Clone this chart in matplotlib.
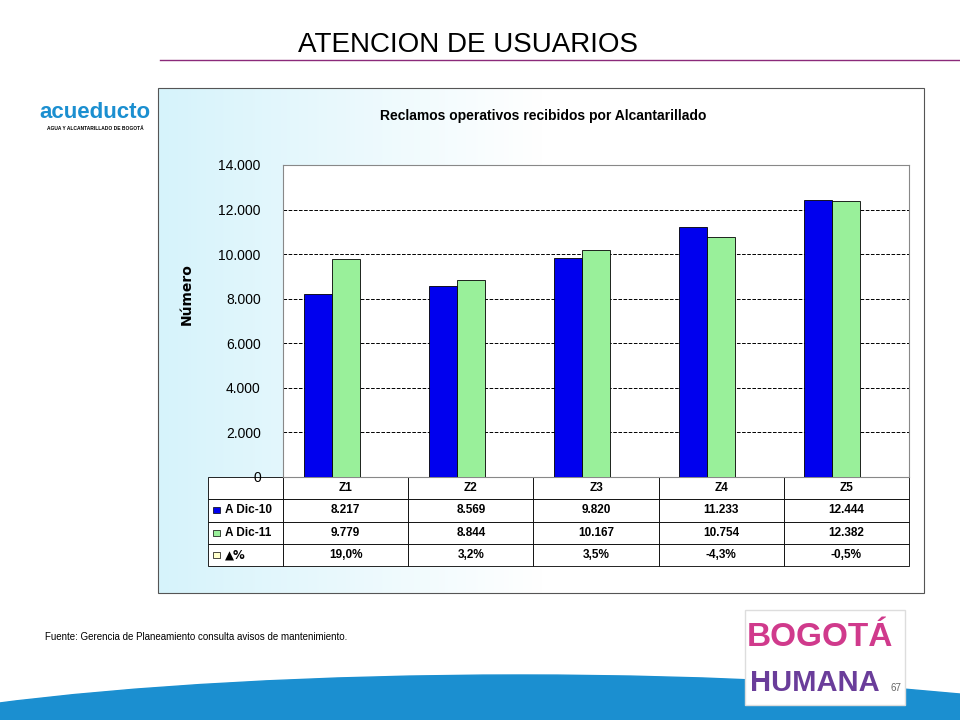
import matplotlib
matplotlib.use("Agg")
import matplotlib.pyplot as plt
import numpy as np
from matplotlib.patches import Rectangle, Ellipse
from matplotlib.colors import LinearSegmentedColormap

categories = ["Z1", "Z2", "Z3", "Z4", "Z5"]
series_names = ["A Dic-10", "A Dic-11", "▲%"]
dic10 = [8217, 8569, 9820, 11233, 12444]
dic11 = [9779, 8844, 10167, 10754, 12382]
pct = [19.0, 3.2, 3.5, -4.3, -0.5]
dic10_lbl = ["8.217", "8.569", "9.820", "11.233", "12.444"]
dic11_lbl = ["9.779", "8.844", "10.167", "10.754", "12.382"]
pct_lbl = ["19,0%", "3,2%", "3,5%", "-4,3%", "-0,5%"]
yticks = [0, 2000, 4000, 6000, 8000, 10000, 12000, 14000]
ytick_lbl = ["0", "2.000", "4.000", "6.000", "8.000", "10.000", "12.000", "14.000"]

plt.rcParams["font.family"] = "Liberation Sans"
W, H = 960, 720
fig = plt.figure(figsize=(9.6, 7.2), dpi=100)

bg = fig.add_axes([0, 0, 1, 1])
bg.set_xlim(0, W); bg.set_ylim(H, 0); bg.axis("off")
bg.add_patch(Ellipse((480, 760), 1500, 230, color="#1b8fd0", zorder=0))
bg.add_patch(Ellipse((480, 735), 1500, 200, color="white", zorder=0.5))
bg.add_patch(Ellipse((520, 775), 1500, 200, color="#1b8fd0", zorder=0.6))
bg.plot([160, 960], [60, 60], color="#8b2a7a", lw=1)
bg.text(468, 45, "ATENCION DE USUARIOS", ha="center", va="center", fontsize=20)
bg.text(95, 112, "acueducto", ha="center", va="center", fontsize=16, color="#1b8fd0", weight="bold")
bg.text(95, 129, "AGUA Y ALCANTARILLADO DE BOGOTÁ", ha="center", va="center", fontsize=3.5, weight="bold")
bg.text(45, 637, "Fuente: Gerencia de Planeamiento consulta avisos de mantenimiento.",
        fontsize=7, va="center")
bg.add_patch(Rectangle((745, 610), 160, 95, facecolor="white", edgecolor="#dddddd", zorder=2))
bg.text(820, 638, "BOGOTÁ", ha="center", va="center", fontsize=24, color="#d03a8c", weight="bold", zorder=3)
bg.text(815, 683, "HUMANA", ha="center", va="center", fontsize=21, color="#6a3d9a", weight="bold", zorder=3)
bg.text(896, 688, "67", fontsize=7, color="#666666", ha="center", va="center", zorder=4)

grad = np.linspace(0, 1, 256)[None, :]
cm = LinearSegmentedColormap.from_list("g", ["#d6f3fb", "#ffffff", "#ffffff"])
bg.imshow(grad, extent=(158, 924, 593, 88), cmap=cm, aspect="auto", zorder=1)
bg.add_patch(Rectangle((158, 88), 766, 505, fill=False, edgecolor="#555555", lw=0.8, zorder=2))
bg.text(543, 116, "Reclamos operativos recibidos por Alcantarillado", ha="center", va="center",
        fontsize=10, weight="bold", zorder=3)
bg.text(187, 294, "Número", rotation=90, ha="center", va="center", fontsize=10, weight="bold",
        family="DejaVu Sans", zorder=3)

ax = fig.add_axes([283 / W, 1 - 477 / H, 626 / W, 312 / H])
ax.set_facecolor("white")
x = np.arange(len(categories))
w = 0.224
ax.bar(x - w, dic10, w, color="#0000ee", edgecolor="black", lw=0.6, zorder=3)
ax.bar(x, dic11, w, color="#99f09a", edgecolor="black", lw=0.6, zorder=3)
ax.bar(x + w, pct, w, color="#ffffcc", edgecolor="black", lw=0.6, zorder=3)
ax.set_xlim(-0.5, 4.5)
ax.set_ylim(0, 14000)
ax.set_yticks(yticks)
ax.set_yticklabels(ytick_lbl, fontsize=10)
ax.set_xticks([])
ax.grid(axis="y", ls="--", color="black", lw=0.7, zorder=0)
ax.tick_params(axis="y", length=0, pad=16)
for s in ax.spines.values():
    s.set_color("#888888")

cell = [[""] + categories, [""] + dic10_lbl, [""] + dic11_lbl, [""] + pct_lbl]
left = (208 - 283) / 626
th = 89 / 312
tb = ax.table(cellText=cell, bbox=[left, -th, 1 - left, th], cellLoc="center")
tb.auto_set_font_size(False)
colw = [75] + [125.2] * 5
for (r, c), ce in tb.get_celld().items():
    ce.set_width(colw[c] / 701)
    ce.set_linewidth(0.6)
    ce.get_text().set_fontsize(8.5)
    ce.get_text().set_fontweight("bold")
rh = th / 4
for i, (col, name) in enumerate(zip(["#0000ee", "#99f09a", "#ffffcc"], series_names)):
    yc = -(i + 1.5) * rh
    ax.add_patch(Rectangle((left + 0.008, yc - 0.01), 0.011, 0.02, transform=ax.transAxes,
                           facecolor=col, edgecolor="black", lw=0.5, clip_on=False, zorder=5))
    ax.text(left + 0.027, yc, name, transform=ax.transAxes, ha="left", va="center",
            fontsize=8.5, weight="bold", family="DejaVu Sans" if name.startswith("▲") else "Liberation Sans",
            zorder=6)

fig.savefig("out.png", dpi=100)
